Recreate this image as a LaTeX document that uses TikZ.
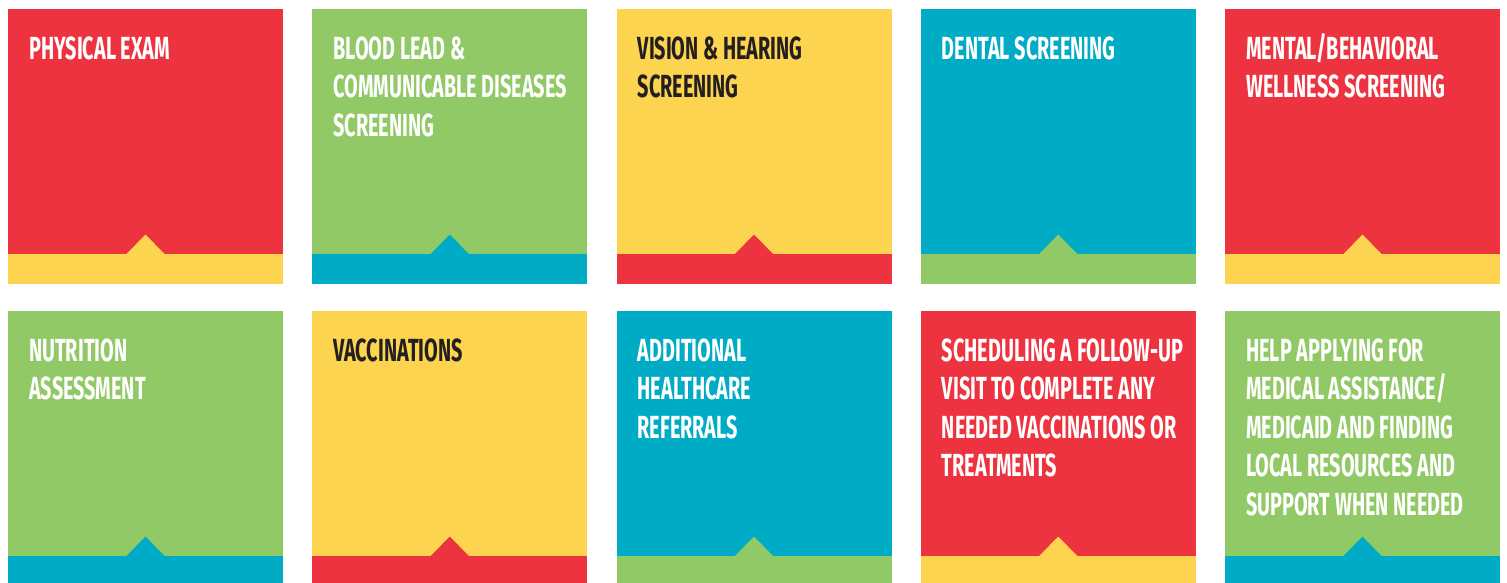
\documentclass[tikz,border=0pt]{standalone}
\usepackage{fontspec}
\newfontfamily\tilefont{Fira Sans}[FakeStretch=0.62]
\definecolor{tilered}{HTML}{EE3340}
\definecolor{tilegreen}{HTML}{90C965}
\definecolor{tileyellow}{HTML}{FCD44F}
\definecolor{tileteal}{HTML}{00ABC6}
\definecolor{tiledark}{HTML}{231F20}

\begin{document}
\begin{tikzpicture}[x=1pt, y=-1pt,
    tiletext/.style={anchor=base west, inner sep=0pt, align=left,
      font=\tilefont\bfseries\fontsize{32}{38.5}\selectfont}]
                \useasboundingbox (0,0) rectangle (1507,582);
                \clip (0,0) rectangle (1507,582);
                % last field: number of text lines (the node sits on its last baseline)
                \foreach \n/\col/\row/\fillc/\bandc/\txtc/\txt/\lines in {
                    1/0/0/tilered/tileyellow/white/{PHYSICAL EXAM}/1,
                    2/1/0/tilegreen/tileteal/white/{BLOOD LEAD \&\\COMMUNICABLE DISEASES\\SCREENING}/3,
                    3/2/0/tileyellow/tilered/tiledark/{VISION \& HEARING\\SCREENING}/2,
                    4/3/0/tileteal/tilegreen/white/{DENTAL SCREENING}/1,
                    5/4/0/tilered/tileyellow/white/{MENTAL/BEHAVIORAL\\WELLNESS SCREENING}/2,
                    6/0/1/tilegreen/tileteal/white/{NUTRITION\\ASSESSMENT}/2,
                    7/1/1/tileyellow/tilered/tiledark/{VACCINATIONS}/1,
                    8/2/1/tileteal/tilegreen/white/{ADDITIONAL\\HEALTHCARE\\REFERRALS}/3,
                    9/3/1/tilered/tileyellow/white/{SCHEDULING A FOLLOW-UP\\VISIT TO COMPLETE ANY\\NEEDED VACCINATIONS OR\\TREATMENTS}/4,
                    10/4/1/tilegreen/tileteal/white/{HELP APPLYING FOR\\MEDICAL ASSISTANCE/\\MEDICAID AND FINDING\\LOCAL RESOURCES AND\\SUPPORT WHEN NEEDED}/5}
                {
                    \pgfmathsetmacro{\xa}{8+304.25*\col}
                    \pgfmathsetmacro{\ya}{9+302*\row}
                    \pgfmathsetmacro{\yb}{50+38.5*(\lines-1)}
                    \coordinate (tile\n) at (\xa,\ya);
                    \fill[\fillc] (tile\n) rectangle ++(275,275);
                    \fill[\bandc] ([yshift=-245pt]tile\n) rectangle ++(275,30);
                    \fill[\bandc] ([xshift=118pt,yshift=-245.5pt]tile\n) -- ++(19.5,-20) -- ++(19.5,20) -- cycle;
                    \node[tiletext, text=\txtc] (lbl\n) at ([xshift=21pt,yshift=-\yb pt]tile\n) {\txt};
                }
            \end{tikzpicture}
\end{document}
